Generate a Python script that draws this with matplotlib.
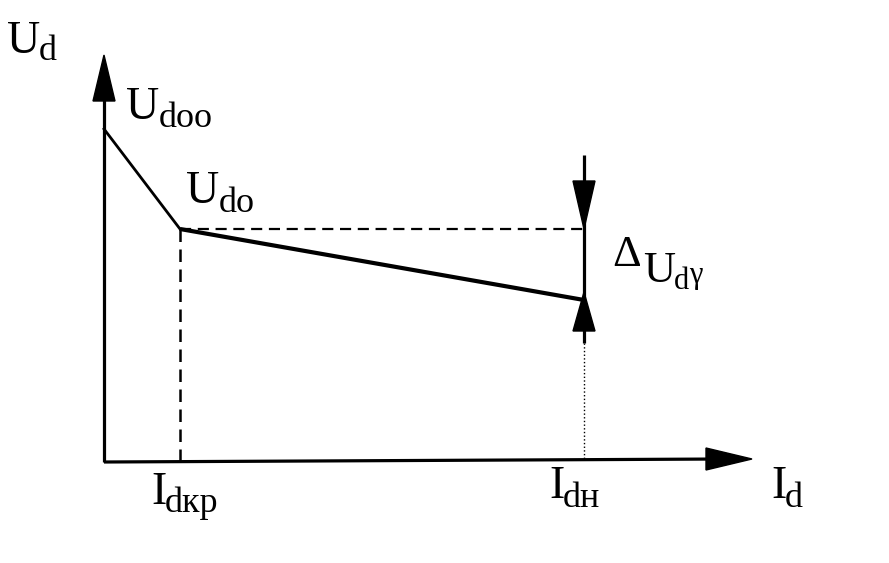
import matplotlib.pyplot as plt
from matplotlib.patches import Polygon

# Точки характеристики (в пикселях рисунка, ось y вниз)
origin = (104, 462)
y_axis_top = 55
x_axis_end = (752, 459)
U_doo = (104, 129)
U_do = (180, 229)
U_dn = (584, 300)
I_dkr = 180
I_dn = 584
delta_top = 155
delta_bottom = 343

# Подписи: (главный текст, индекс, x, базовая линия, размер, размер индекса, базовая линия индекса)
labels = [
    ("U", "d", 7, 53, 33, 26, 60),
    ("U", "doo", 126, 119, 33, 26, 127),
    ("U", "do", 186, 203, 33, 26, 212),
    ("I", "dкр", 151, 504, 33, 26, 512),
    ("I", "dн", 549, 498, 33, 26, 507),
    ("I", "d", 771, 498, 33, 26, 507),
]

plt.rcParams['font.family'] = ['Liberation Serif', 'DejaVu Serif']

fig = plt.figure(figsize=(8.89, 5.63), dpi=100)
ax = fig.add_axes([0, 0, 1, 1])
ax.set_xlim(0, 889)
ax.set_ylim(563, 0)
ax.axis('off')

# Оси
ax.plot([origin[0], origin[0]], [origin[1], y_axis_top + 30], color='black', lw=2.3, solid_capstyle='butt')
ax.plot([origin[0], x_axis_end[0] - 30], [origin[1], x_axis_end[1]], color='black', lw=2.3, solid_capstyle='butt')
ax.add_patch(Polygon([(origin[0], y_axis_top), (origin[0] - 11, y_axis_top + 46), (origin[0] + 11, y_axis_top + 46)],
                     closed=True, color='black'))
ax.add_patch(Polygon([x_axis_end, (x_axis_end[0] - 46, x_axis_end[1] - 11), (x_axis_end[0] - 46, x_axis_end[1] + 11)],
                     closed=True, color='black'))

# Характеристика
ax.plot([U_doo[0], U_do[0]], [U_doo[1], U_do[1]], color='black', lw=2.0)
ax.plot([U_do[0], U_dn[0]], [U_do[1], U_dn[1]], color='black', lw=3.0, solid_capstyle='butt')

# Пунктир
ax.plot([U_do[0], I_dn], [U_do[1], U_do[1]], color='black', lw=1.6, dashes=(5, 3))
ax.plot([I_dkr, I_dkr], [U_do[1], origin[1]], color='black', lw=1.8, dashes=(5, 3))
ax.plot([I_dn, I_dn], [delta_bottom, origin[1] - 2], color='black', lw=1.0, ls=':')

# Delta U
ax.plot([I_dn, I_dn], [delta_top, delta_bottom], color='black', lw=2.3, solid_capstyle='butt')
ax.add_patch(Polygon([(I_dn, U_do[1]), (I_dn - 11, U_do[1] - 48), (I_dn + 11, U_do[1] - 48)],
                     closed=True, color='black'))
ax.add_patch(Polygon([(I_dn, 292), (I_dn - 11, 331), (I_dn + 11, 331)],
                     closed=True, color='black'))

fig.canvas.draw()
renderer = fig.canvas.get_renderer()


def label(main, sub, x, y, size, sub_size, sub_y):
    t = ax.text(x, y, main, fontsize=size, va='baseline', ha='left')
    bb = t.get_window_extent(renderer).transformed(ax.transData.inverted())
    s = ax.text(max(bb.x0, bb.x1) - 1, sub_y, sub, fontsize=sub_size, va='baseline', ha='left')
    return s


for main, sub, x, y, size, sub_size, sub_y in labels:
    label(main, sub, x, y, size, sub_size, sub_y)

# Delta U_d gamma
ax.text(612, 266, "Δ", fontsize=32, va='baseline', ha='left')
s = label("U", "d", 643, 282, 32, 22, 289)
bb = s.get_window_extent(renderer).transformed(ax.transData.inverted())
ax.text(max(bb.x0, bb.x1), 283, "γ", fontsize=22, va='baseline', ha='left')

fig.savefig('out.png', dpi=100)
